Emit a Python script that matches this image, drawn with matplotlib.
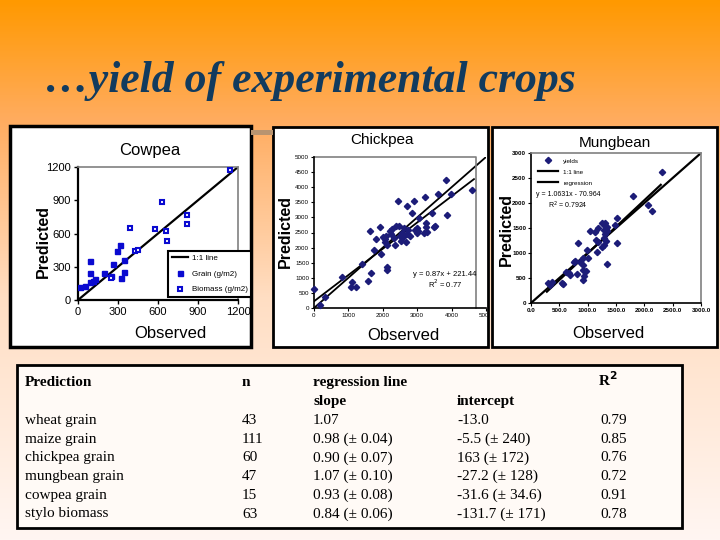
"""Slide: yield of experimental crops (observed vs predicted)."""
import matplotlib
matplotlib.use("Agg")
import matplotlib.pyplot as plt
import numpy as np
from matplotlib.patches import Rectangle
from matplotlib.transforms import Bbox, TransformedBbox

W, H = 720, 540
SANS = "Liberation Sans"
SERIF = "Liberation Serif"

# ---- cowpea (g/m2) ----
cow_grain_obs = [18, 50, 88, 113, 125, 88, 88, 196, 250, 264, 289, 314, 319, 344, 344]
cow_grain_pred = [114, 129, 160, 175, 185, 240, 354, 240, 215, 329, 446, 492, 194, 252, 360]
cow_bio_obs = [250, 389, 427, 447, 577, 628, 660, 670, 821, 821, 1142]
cow_bio_pred = [194, 646, 440, 452, 637, 886, 622, 529, 763, 686, 1169]
cow_ticks = [0, 300, 600, 900, 1200]

# ---- chickpea ----
chk_obs = [0, 185, 310, 825, 1087, 1116, 1232, 1406, 1570, 1648, 1619, 1735, 1793, 1909,
           1938, 2000, 2050, 2100, 2123, 2133, 2133, 2200, 2229, 2316, 2345, 2394, 2461,
           2442, 2490, 2540, 2590, 2610, 2665, 2705, 2735, 2780, 2859, 2907, 2930, 2980,
           3000, 3030, 3043, 3218, 3250, 3270, 3290, 3200, 3441, 3480, 3530, 3606, 3848,
           3877, 3993, 4603, 2060, 2280, 2560, 2700]
chk_pred = [640, 90, 364, 1027, 696, 861, 696, 1469, 895, 1171, 2540, 1911, 2297, 2683,
            1800, 2350, 2300, 2400, 2076, 1358, 1248, 2551, 2441, 2319, 2098, 2705, 2705,
            3545, 2400, 2230, 2340, 2650, 2186, 3379, 2580, 2400, 3146, 3545, 2580, 2470,
            2650, 2560, 2992, 3677, 2800, 2680, 2520, 2480, 3146, 2683, 2720, 3787, 4251,
            3069, 3787, 3897, 2200, 2630, 2500, 2450]
chk_slope, chk_icpt = 0.87, 221.44
chk_fit_x = [0, 4650]
chk_xticks = [0, 1000, 2000, 3000, 4000, 5000]
chk_yticks = [0, 500, 1000, 1500, 2000, 2500, 3000, 3500, 4000, 4500, 5000]

# ---- mungbean ----
mung_obs = [2310, 1792, 2057, 2133, 306, 336, 370, 542, 572, 690, 670, 837, 807, 866, 925,
            913, 925, 943, 925, 966, 996, 1043, 1131, 1179, 1149, 1161, 1190, 1249, 1308,
            1290, 1320, 1345, 1310, 1290, 1280, 1338, 1485, 1514, 1514, 1300, 1340, 1250,
            1320, 1000, 780, 620, 760]
mung_pred = [2622, 2145, 1959, 1846, 398, 365, 420, 398, 378, 561, 600, 1195, 583, 830, 896,
             764, 664, 531, 465, 631, 1062, 1448, 1428, 1494, 1255, 1029, 1228, 1607, 1593,
             1461, 1480, 1450, 1380, 1300, 1160, 776, 1560, 1693, 1195, 1540, 1520, 1120,
             1250, 900, 850, 620, 817]
mung_slope, mung_icpt = 1.0631, -70.964
mung_fit_x = [280, 2290]
mung_ticks = [0, 500, 1000, 1500, 2000, 2500, 3000]

# ---- table ----
tbl_crop = ["wheat grain", "maize grain", "chickpea grain", "mungbean grain",
            "cowpea grain", "stylo biomass"]
tbl_n = ["43", "111", "60", "47", "15", "63"]
tbl_slope = ["1.07", "0.98 (\u00b1 0.04)", "0.90 (\u00b1 0.07)", "1.07 (\u00b1 0.10)",
             "0.93 (\u00b1 0.08)", "0.84 (\u00b1 0.06)"]
tbl_icpt = ["-13.0", "-5.5 (\u00b1 240)", "163 (\u00b1 172)", "-27.2 (\u00b1 128)",
            "-31.6 (\u00b1 34.6)", "-131.7 (\u00b1 171)"]
tbl_r2 = ["0.79", "0.85", "0.76", "0.72", "0.91", "0.78"]

NAVY = "#1c1c78"
BLUE = "#0a0ad0"


def rect(x0, y0, x1, y1):
    # pixel box (top-left origin) -> figure fraction [l, b, w, h]
    return [x0 / W, 1 - y1 / H, (x1 - x0) / W, (y1 - y0) / H]


def ftext(x, y, s, **kw):
    fig.text(x / W, 1 - y / H, s, **kw)


def chart_axes(box):
    a = fig.add_axes(rect(*box))
    a.set_zorder(2)
    a.patch.set_visible(False)
    return a


fig = plt.figure(figsize=(W / 100, H / 100), dpi=100)

# background gradient
bg = fig.add_axes([0, 0, 1, 1])
bg.set_zorder(0)
t = np.linspace(0, 1, 256)
stops = [0, 0.22, 0.55, 1]
r = np.interp(t, stops, [255, 255, 255, 255])
g = np.interp(t, stops, [153, 172, 222, 246])
b = np.interp(t, stops, [0, 95, 195, 242])
grad = np.stack([r, g, b], axis=1)[:, None, :] / 255
bg.imshow(grad, aspect="auto", extent=[0, 1, 0, 1])
bg.set_axis_off()

# title
ftext(45, 92, "\u2026yield of experimental crops", fontsize=31.5, family=SERIF,
      style="italic", weight="bold", color="#123b5e", va="baseline")

# panel boxes
for x0, y0, x1, y1, lw in [(10, 126, 251, 347, 2.5), (273, 127, 488, 347, 2.0),
                           (492, 127, 717, 347, 2.0)]:
    fig.patches.append(Rectangle((x0 / W, 1 - y1 / H), (x1 - x0) / W, (y1 - y0) / H,
                                 transform=fig.transFigure, facecolor="white",
                                 edgecolor="black", lw=lw, zorder=1))
fig.patches.append(Rectangle((251 / W, 1 - 135 / H), 22 / W, 5 / H,
                             transform=fig.transFigure, facecolor="#b89470",
                             edgecolor="none", zorder=1))

# ---------- Cowpea ----------
ax = chart_axes((78, 167, 238, 300))
ax.plot([0, 1200], [0, 1200], color="black", lw=1.6, label="1:1 line", zorder=2)
ax.plot(cow_grain_obs, cow_grain_pred, "s", ms=3.6, color=BLUE, mec=BLUE,
        label="Grain (g/m2)", zorder=3)
ax.plot(cow_bio_obs, cow_bio_pred, "s", ms=3.3, mfc="white", mec=BLUE, mew=1.5,
        label="Biomass (g/m2)", zorder=3)
ax.set_xlim(0, 1200)
ax.set_ylim(0, 1200)
ax.set_xticks(cow_ticks)
ax.set_yticks(cow_ticks)
ax.tick_params(labelsize=8, length=3, width=1, pad=2)
for lab in ax.get_xticklabels() + ax.get_yticklabels():
    lab.set_family(SANS)
for s in ("top", "right"):
    ax.spines[s].set_color("#808080")
    ax.spines[s].set_linewidth(1.2)
for s in ("left", "bottom"):
    ax.spines[s].set_linewidth(1.6)
leg = fig.legend(handles=ax.get_legend_handles_labels()[0], loc="lower left",
                 bbox_to_anchor=(168 / W, 1 - 297 / H), borderaxespad=0,
                 prop={"family": SANS, "size": 5.8}, fancybox=False,
                 edgecolor="black", framealpha=1, handlelength=2.0,
                 handletextpad=0.5, labelspacing=1.0, borderpad=0.45)
leg.get_frame().set_linewidth(1.5)
leg.set_zorder(4)
ftext(150, 150, "Cowpea", fontsize=12, family=SANS, ha="center", va="center")
ftext(43, 241, "Predicted", fontsize=11.5, family=SANS, weight="bold",
      rotation=90, ha="center", va="center")
ftext(170, 334, "Observed", fontsize=12, family=SANS, ha="center", va="center")

# ---------- Chickpea ----------
ax = chart_axes((314, 157, 486, 308))
ax.plot([0, 5000], [0, 5000], color="black", lw=1.3, zorder=2)
fx = np.array(chk_fit_x)
ax.plot(fx, chk_slope * fx + chk_icpt, color="black", lw=1.3, zorder=2)
ax.plot(chk_obs, chk_pred, "D", ms=3.2, color=NAVY, zorder=3, clip_on=False)
ax.plot([0, 4710, 4710], [5000, 5000, 0], color="#808080", lw=1.2, clip_on=False)
ax.set_xlim(0, 5000)
ax.set_ylim(0, 5000)
ax.set_xticks(chk_xticks)
ax.set_yticks(chk_yticks)
ax.tick_params(labelsize=4.5, length=2, width=0.8, pad=1.5)
panel_clip = TransformedBbox(Bbox.from_bounds(*rect(273, 127, 487, 347)), fig.transFigure)
for lab in ax.get_xticklabels() + ax.get_yticklabels():
    lab.set_family(SANS)
    lab.set_clip_box(panel_clip)
    lab.set_clip_on(True)
for s in ("top", "right"):
    ax.spines[s].set_visible(False)
ax.spines["left"].set_linewidth(1.2)
ax.spines["bottom"].set_linewidth(1.2)
ax.text(0.76, 0.21, "y = 0.87x + 221.44", transform=ax.transAxes, fontsize=5.5,
        family=SANS, ha="center")
ax.text(0.76, 0.13, "R$^2$ = 0.77", transform=ax.transAxes, fontsize=5.5,
        family=SANS, ha="center")
ftext(382, 140, "Chickpea", fontsize=11, family=SANS, ha="center", va="center")
ftext(285, 232, "Predicted", fontsize=11.5, family=SANS, weight="bold",
      rotation=90, ha="center", va="center")
ftext(403, 336, "Observed", fontsize=12, family=SANS, ha="center", va="center")

# ---------- Mungbean ----------
ax = chart_axes((531, 153, 701, 303))
ax.plot(mung_obs, mung_pred, "D", ms=3.2, color=NAVY, zorder=3, label="yields")
ax.plot([0, 3000], [0, 3000], color="black", lw=1.6, zorder=2, label="1:1 line")
mx = np.array(mung_fit_x)
ax.plot(mx, mung_slope * mx + mung_icpt, color="black", lw=1.6, zorder=2,
        label="regression")
ax.set_xlim(0, 3000)
ax.set_ylim(0, 3000)
ax.set_xticks(mung_ticks)
ax.set_xticklabels([f"{v:.1f}" for v in mung_ticks])
ax.set_yticks(mung_ticks)
ax.tick_params(labelsize=4.5, length=2, width=0.8, pad=1.5)
for lab in ax.get_xticklabels() + ax.get_yticklabels():
    lab.set_family(SANS)
    lab.set_weight("bold")
for s in ("top", "right"):
    ax.spines[s].set_color("#808080")
    ax.spines[s].set_linewidth(1.2)
ax.spines["left"].set_linewidth(1.2)
ax.spines["bottom"].set_linewidth(1.2)
ax.legend(loc="upper left", bbox_to_anchor=(0.02, 0.99), frameon=False,
          prop={"family": SANS, "size": 4.5}, handlelength=3.2, labelspacing=0.9,
          borderaxespad=0.2)
ax.text(0.03, 0.71, "y = 1.0631x - 70.964", transform=ax.transAxes, fontsize=5,
        family=SANS)
ax.text(0.10, 0.63, "R$^2$ = 0.7924", transform=ax.transAxes, fontsize=5, family=SANS)
ftext(615, 143, "Mungbean", fontsize=11, family=SANS, ha="center", va="center")
ftext(506, 230, "Predicted", fontsize=11.5, family=SANS, weight="bold",
      rotation=90, ha="center", va="center")
ftext(608, 333, "Observed", fontsize=12, family=SANS, ha="center", va="center")

# ---------- Table ----------
fig.patches.append(Rectangle((17 / W, 1 - 528 / H), 665 / W, 163 / H,
                             transform=fig.transFigure, facecolor="#fffaf6",
                             edgecolor="black", lw=2, zorder=1))
tkw = dict(fontsize=11, family=SERIF, va="baseline")
hkw = dict(tkw, weight="bold")
ftext(25, 386, "Prediction", **hkw)
ftext(242, 386, "n", **hkw)
ftext(313, 386, "regression line", **hkw)
ftext(598, 386, "R$^\\mathbf{2}$", **hkw)
ftext(313, 405, "slope", **hkw)
ftext(457, 405, "intercept", **hkw)
for i in range(len(tbl_crop)):
    y = 424 + i * 18.7
    ftext(25, y, tbl_crop[i], **tkw)
    ftext(242, y, tbl_n[i], **tkw)
    ftext(313, y, tbl_slope[i], **tkw)
    ftext(457, y, tbl_icpt[i], **tkw)
    ftext(600, y, tbl_r2[i], **tkw)

fig.savefig("out.png", dpi=100)
